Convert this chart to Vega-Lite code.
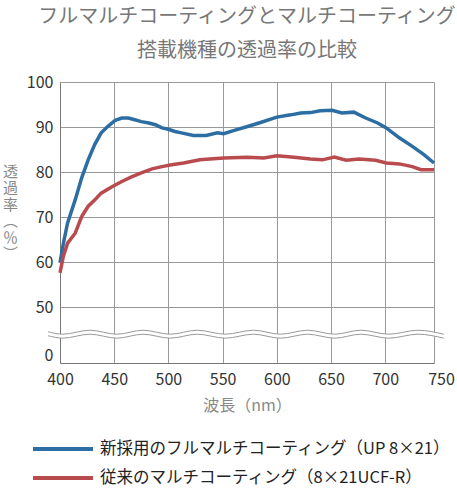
{
  "$schema": "https://vega.github.io/schema/vega-lite/v6.json",
  "width": 374,
  "height": 281,
  "autosize": "none",
  "padding": {"left": 60, "top": 82, "right": 23, "bottom": 125},
  "background": "white",
  "config": {
    "font": "Noto Sans CJK JP",
    "view": {"stroke": null}
  },
  "title": {
    "text": ["フルマルチコーティングとマルチコーティング", "搭載機種の透過率の比較"],
    "fontSize": 20,
    "fontWeight": "normal",
    "color": "#777",
    "lineHeight": 34,
    "anchor": "middle",
    "offset": 13
  },
  "datasets": {
    "curves": [
      {"nm": 400, "t": 59.8, "s": "new"}, {"nm": 403, "t": 64.0, "s": "new"}, {"nm": 407, "t": 68.7, "s": "new"},
      {"nm": 414, "t": 73.8, "s": "new"}, {"nm": 420, "t": 78.7, "s": "new"}, {"nm": 426, "t": 82.7, "s": "new"},
      {"nm": 432, "t": 86.1, "s": "new"}, {"nm": 438, "t": 88.7, "s": "new"}, {"nm": 444, "t": 90.1, "s": "new"},
      {"nm": 451, "t": 91.5, "s": "new"}, {"nm": 457, "t": 92.0, "s": "new"}, {"nm": 463, "t": 92.0, "s": "new"},
      {"nm": 469, "t": 91.6, "s": "new"}, {"nm": 475, "t": 91.2, "s": "new"}, {"nm": 482, "t": 90.9, "s": "new"},
      {"nm": 488, "t": 90.5, "s": "new"}, {"nm": 494, "t": 89.8, "s": "new"}, {"nm": 500, "t": 89.5, "s": "new"},
      {"nm": 506, "t": 89.0, "s": "new"}, {"nm": 512, "t": 88.7, "s": "new"}, {"nm": 523, "t": 88.1, "s": "new"},
      {"nm": 535, "t": 88.1, "s": "new"}, {"nm": 545, "t": 88.7, "s": "new"}, {"nm": 551, "t": 88.5, "s": "new"},
      {"nm": 560, "t": 89.2, "s": "new"}, {"nm": 573, "t": 90.1, "s": "new"}, {"nm": 585, "t": 91.0, "s": "new"},
      {"nm": 600, "t": 92.2, "s": "new"}, {"nm": 613, "t": 92.7, "s": "new"}, {"nm": 622, "t": 93.1, "s": "new"},
      {"nm": 631, "t": 93.2, "s": "new"}, {"nm": 640, "t": 93.6, "s": "new"}, {"nm": 651, "t": 93.7, "s": "new"},
      {"nm": 660, "t": 93.1, "s": "new"}, {"nm": 671, "t": 93.3, "s": "new"}, {"nm": 682, "t": 92.0, "s": "new"},
      {"nm": 693, "t": 90.9, "s": "new"}, {"nm": 701, "t": 89.8, "s": "new"}, {"nm": 713, "t": 87.6, "s": "new"},
      {"nm": 725, "t": 85.7, "s": "new"}, {"nm": 736, "t": 83.8, "s": "new"}, {"nm": 745, "t": 82.0, "s": "new"},
      {"nm": 400, "t": 57.6, "s": "old"}, {"nm": 403, "t": 61.2, "s": "old"}, {"nm": 407, "t": 64.2, "s": "old"},
      {"nm": 414, "t": 66.4, "s": "old"}, {"nm": 420, "t": 70.1, "s": "old"}, {"nm": 426, "t": 72.4, "s": "old"},
      {"nm": 432, "t": 73.8, "s": "old"}, {"nm": 438, "t": 75.3, "s": "old"}, {"nm": 448, "t": 76.7, "s": "old"},
      {"nm": 457, "t": 77.9, "s": "old"}, {"nm": 466, "t": 78.9, "s": "old"}, {"nm": 475, "t": 79.8, "s": "old"},
      {"nm": 485, "t": 80.7, "s": "old"}, {"nm": 494, "t": 81.2, "s": "old"}, {"nm": 503, "t": 81.6, "s": "old"},
      {"nm": 514, "t": 82.0, "s": "old"}, {"nm": 529, "t": 82.7, "s": "old"}, {"nm": 551, "t": 83.1, "s": "old"},
      {"nm": 573, "t": 83.3, "s": "old"}, {"nm": 588, "t": 83.1, "s": "old"}, {"nm": 600, "t": 83.6, "s": "old"},
      {"nm": 616, "t": 83.3, "s": "old"}, {"nm": 631, "t": 82.9, "s": "old"}, {"nm": 642, "t": 82.7, "s": "old"},
      {"nm": 653, "t": 83.3, "s": "old"}, {"nm": 664, "t": 82.6, "s": "old"}, {"nm": 676, "t": 82.9, "s": "old"},
      {"nm": 691, "t": 82.6, "s": "old"}, {"nm": 701, "t": 82.0, "s": "old"}, {"nm": 713, "t": 81.8, "s": "old"},
      {"nm": 725, "t": 81.2, "s": "old"}, {"nm": 733, "t": 80.5, "s": "old"}, {"nm": 745, "t": 80.5, "s": "old"}
    ],
    "wave": [
      {"nm": 389, "up": 44.5, "lo": 43.62},
      {"nm": 402.5, "up": 43.96, "lo": 43.08},
      {"nm": 427.6, "up": 44.84, "lo": 43.96},
      {"nm": 452.5, "up": 43.96, "lo": 43.08},
      {"nm": 476.6, "up": 44.84, "lo": 43.96},
      {"nm": 501.6, "up": 43.96, "lo": 43.08},
      {"nm": 526.6, "up": 44.84, "lo": 43.96},
      {"nm": 552.5, "up": 43.96, "lo": 43.08},
      {"nm": 578.4, "up": 44.84, "lo": 43.96},
      {"nm": 603.4, "up": 43.96, "lo": 43.08},
      {"nm": 628.4, "up": 44.84, "lo": 43.96},
      {"nm": 653.4, "up": 43.96, "lo": 43.08},
      {"nm": 677.5, "up": 44.84, "lo": 43.96},
      {"nm": 703.4, "up": 43.96, "lo": 43.08},
      {"nm": 730.3, "up": 44.84, "lo": 43.96},
      {"nm": 754, "up": 43.96, "lo": 43.08}
    ]
  },
  "layer": [
    {
      "data": {"name": "curves"},
      "mark": {"type": "line", "strokeWidth": 3.5},
      "encoding": {
        "x": {
          "field": "nm",
          "type": "quantitative",
          "scale": {"domain": [400, 745], "nice": false, "zero": false},
          "axis": {
            "values": [400, 450, 500, 550, 600, 650, 700, 745],
            "labelExpr": "datum.value == 745 ? '750' : datum.label",
            "labelOffset": {"condition": {"test": "datum.value == 745", "value": 7}, "value": 0},
            "labelOverlap": false,
            "labelFlush": false,
            "ticks": false,
            "labelPadding": 8,
            "labelFontSize": 16,
            "labelColor": "#333",
            "gridColor": "#999",
            "domainColor": "#777",
            "title": "波長（nm）",
            "titleFontSize": 16,
            "titleFontWeight": "normal",
            "titleColor": "#888",
            "titlePadding": 10
          }
        },
        "y": {
          "field": "t",
          "type": "quantitative",
          "scale": {"domain": [37.56, 100], "nice": false, "zero": false},
          "axis": {
            "values": [39.2, 50, 60, 70, 80, 90, 100],
            "labelExpr": "datum.value < 45 ? '0' : datum.label",
            "gridOpacity": {"condition": {"test": "datum.value < 45", "value": 0}, "value": 1},
            "ticks": false,
            "labelPadding": 7,
            "labelFontSize": 16,
            "labelColor": "#333",
            "gridColor": "#999",
            "domainColor": "#777",
            "title": ["透", "過", "率", "︵", "％", "︶"],
            "titleAngle": 0,
            "titleFontSize": 15,
            "titleLineHeight": 16.5,
            "titleFontWeight": "normal",
            "titleColor": "#888",
            "titleAlign": "center",
            "titleBaseline": "top",
            "titleX": -50,
            "titleY": 82
          }
        },
        "color": {
          "field": "s",
          "type": "nominal",
          "scale": {"domain": ["new", "old"], "range": ["#2c6ea3", "#b94b4f"]},
          "legend": {
            "orient": "none",
            "legendX": -29,
            "legendY": 357,
            "title": null,
            "padding": 0,
            "clipHeight": 20,
            "symbolType": "stroke",
            "symbolSize": 3600,
            "symbolStrokeWidth": 4,
            "labelFontSize": 16.5,
            "labelColor": "#222",
            "labelOffset": 5,
            "labelLimit": 0,
            "rowPadding": 9,
            "labelExpr": "datum.label == 'new' ? '新採用のフルマルチコーティング（UP 8×21）' : '従来のマルチコーティング（8×21UCF-R）'"
          }
        }
      }
    },
    {
      "data": {"name": "wave"},
      "mark": {"type": "area", "color": "white", "interpolate": "monotone"},
      "encoding": {
        "x": {"field": "nm", "type": "quantitative"},
        "y": {"field": "up", "type": "quantitative"},
        "y2": {"field": "lo"}
      }
    },
    {
      "data": {"name": "wave"},
      "mark": {"type": "line", "color": "#999", "strokeWidth": 1, "interpolate": "monotone"},
      "encoding": {
        "x": {"field": "nm", "type": "quantitative"},
        "y": {"field": "up", "type": "quantitative"}
      }
    },
    {
      "data": {"name": "wave"},
      "mark": {"type": "line", "color": "#999", "strokeWidth": 1, "interpolate": "monotone"},
      "encoding": {
        "x": {"field": "nm", "type": "quantitative"},
        "y": {"field": "lo", "type": "quantitative"}
      }
    }
  ]
}
